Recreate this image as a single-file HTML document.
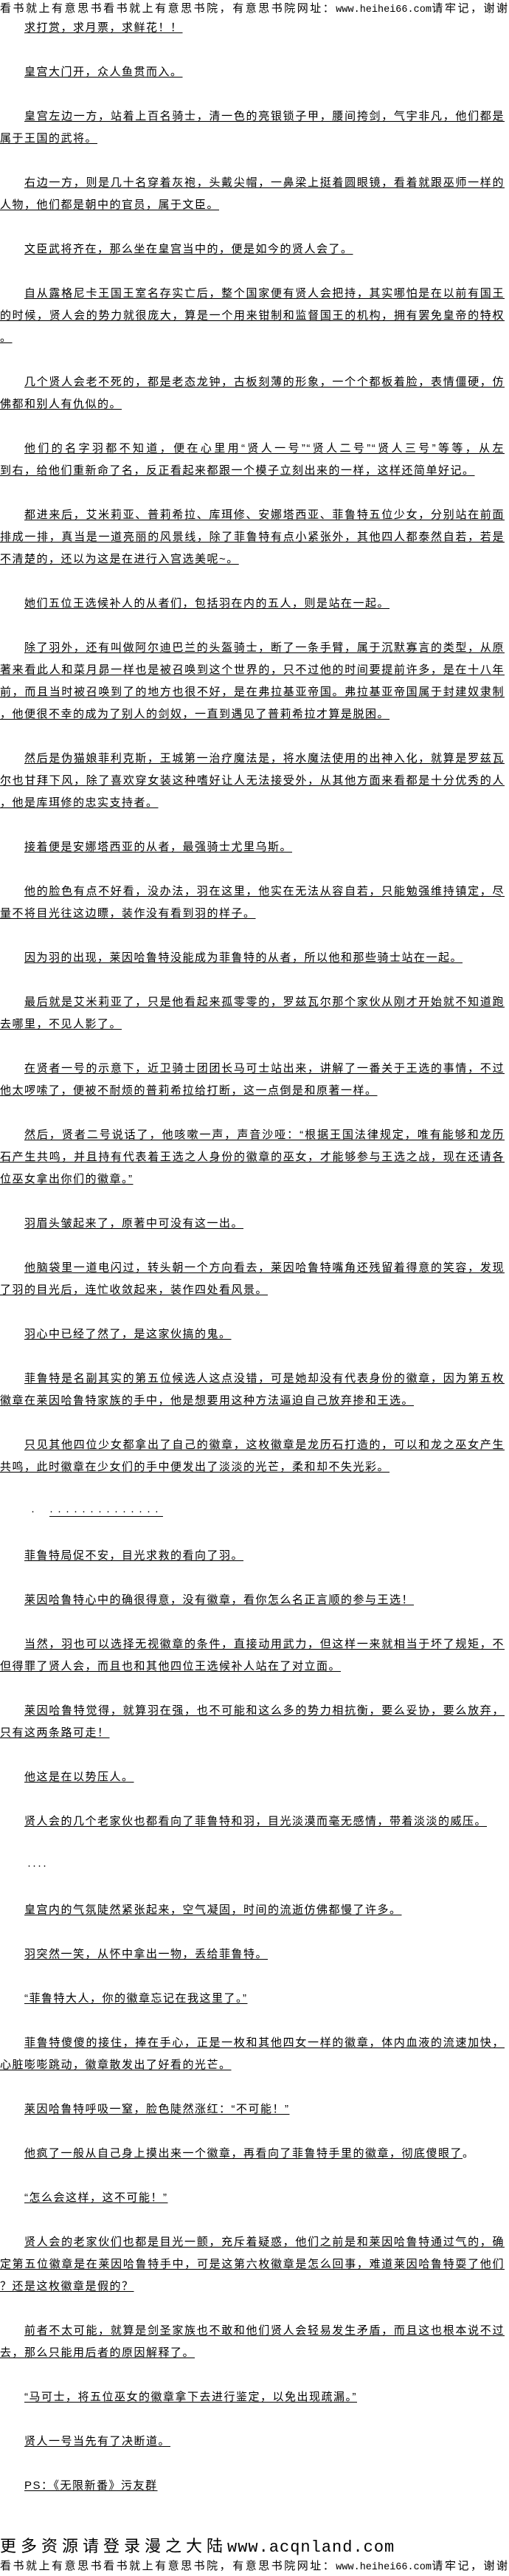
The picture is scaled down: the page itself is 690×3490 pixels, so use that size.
<!DOCTYPE html>
<html><head><meta charset="utf-8">
<style>
html,body{margin:0;padding:0;background:#fff;}
body{width:690px;height:3490px;overflow:hidden;position:relative;color:#000;}
.hd{position:absolute;left:0;width:690px;height:20px;line-height:20px;font:15px "Liberation Sans","Noto Sans CJK SC",sans-serif;letter-spacing:2px;text-align:justify;text-align-last:justify;overflow:hidden;}
.hd .m{font-family:"Liberation Mono",monospace;font-size:13.5px;letter-spacing:0;}
#c{position:absolute;top:23px;left:0;width:684px;font:15px "Liberation Sans","Noto Sans CJK SC",sans-serif;line-height:30px;letter-spacing:1.5px;}
.p{margin-bottom:30px;}
.l{height:30px;overflow:hidden;white-space:nowrap;}
.i{padding-left:33px;}
.f{white-space:normal;text-align:justify;text-align-last:justify;}
u{text-decoration:underline;text-underline-offset:2px;text-decoration-thickness:1px;}
.big{position:absolute;left:0;top:3432px;height:30px;line-height:30px;font:22px "Liberation Sans","Noto Sans CJK SC",sans-serif;letter-spacing:6px;white-space:nowrap;}
.big .m{font-family:"Liberation Mono",monospace;letter-spacing:1px;}
</style></head><body>
<div class="hd" style="top:0">看书就上有意思书看书就上有意思书院，有意思书院网址：<span class="m">www.heihei66.com</span>请牢记，谢谢</div>
<div id="c">
<div class="p"><div class="l i"><u>求打赏，求月票，求鲜花！！</u></div></div>
<div class="p"><div class="l i"><u>皇宫大门开，众人鱼贯而入。</u></div></div>
<div class="p"><div class="l i f"><u>皇宫左边一方，站着上百名骑士，清一色的亮银锁子甲，腰间挎剑，气宇非凡，他们都是</u></div><div class="l"><u>属于王国的武将。</u></div></div>
<div class="p"><div class="l i f"><u>右边一方，则是几十名穿着灰袍，头戴尖帽，一鼻梁上挺着圆眼镜，看着就跟巫师一样的</u></div><div class="l"><u>人物，他们都是朝中的官员，属于文臣。</u></div></div>
<div class="p"><div class="l i"><u>文臣武将齐在，那么坐在皇宫当中的，便是如今的贤人会了。</u></div></div>
<div class="p"><div class="l i f"><u>自从露格尼卡王国王室名存实亡后，整个国家便有贤人会把持，其实哪怕是在以前有国王</u></div><div class="l f"><u>的时候，贤人会的势力就很庞大，算是一个用来钳制和监督国王的机构，拥有罢免皇帝的特权</u></div><div class="l"><u>。</u></div></div>
<div class="p"><div class="l i f"><u>几个贤人会老不死的，都是老态龙钟，古板刻薄的形象，一个个都板着脸，表情僵硬，仿</u></div><div class="l"><u>佛都和别人有仇似的。</u></div></div>
<div class="p"><div class="l i f"><u>他们的名字羽都不知道，便在心里用“贤人一号”“贤人二号”“贤人三号”等等，从左</u></div><div class="l"><u>到右，给他们重新命了名，反正看起来都跟一个模子立刻出来的一样，这样还简单好记。</u></div></div>
<div class="p"><div class="l i f"><u>都进来后，艾米莉亚、普莉希拉、库珥修、安娜塔西亚、菲鲁特五位少女，分别站在前面</u></div><div class="l f"><u>排成一排，真当是一道亮丽的风景线，除了菲鲁特有点小紧张外，其他四人都泰然自若，若是</u></div><div class="l"><u>不清楚的，还以为这是在进行入宫选美呢~。</u></div></div>
<div class="p"><div class="l i"><u>她们五位王选候补人的从者们，包括羽在内的五人，则是站在一起。</u></div></div>
<div class="p"><div class="l i f"><u>除了羽外，还有叫做阿尔迪巴兰的头盔骑士，断了一条手臂，属于沉默寡言的类型，从原</u></div><div class="l f"><u>著来看此人和菜月昴一样也是被召唤到这个世界的，只不过他的时间要提前许多，是在十八年</u></div><div class="l f"><u>前，而且当时被召唤到了的地方也很不好，是在弗拉基亚帝国。弗拉基亚帝国属于封建奴隶制</u></div><div class="l"><u>，他便很不幸的成为了别人的剑奴，一直到遇见了普莉希拉才算是脱困。</u></div></div>
<div class="p"><div class="l i f"><u>然后是伪猫娘菲利克斯，王城第一治疗魔法是，将水魔法使用的出神入化，就算是罗兹瓦</u></div><div class="l f"><u>尔也甘拜下风，除了喜欢穿女装这种嗜好让人无法接受外，从其他方面来看都是十分优秀的人</u></div><div class="l"><u>，他是库珥修的忠实支持者。</u></div></div>
<div class="p"><div class="l i"><u>接着便是安娜塔西亚的从者，最强骑士尤里乌斯。</u></div></div>
<div class="p"><div class="l i f"><u>他的脸色有点不好看，没办法，羽在这里，他实在无法从容自若，只能勉强维持镇定，尽</u></div><div class="l"><u>量不将目光往这边瞟，装作没有看到羽的样子。</u></div></div>
<div class="p"><div class="l i"><u>因为羽的出现，莱因哈鲁特没能成为菲鲁特的从者，所以他和那些骑士站在一起。</u></div></div>
<div class="p"><div class="l i f"><u>最后就是艾米莉亚了，只是他看起来孤零零的，罗兹瓦尔那个家伙从刚才开始就不知道跑</u></div><div class="l"><u>去哪里，不见人影了。</u></div></div>
<div class="p"><div class="l i f"><u>在贤者一号的示意下，近卫骑士团团长马可士站出来，讲解了一番关于王选的事情，不过</u></div><div class="l"><u>他太啰嗦了，便被不耐烦的普莉希拉给打断，这一点倒是和原著一样。</u></div></div>
<div class="p"><div class="l i f"><u>然后，贤者二号说话了，他咳嗽一声，声音沙哑：“根据王国法律规定，唯有能够和龙历</u></div><div class="l f"><u>石产生共鸣，并且持有代表着王选之人身份的徽章的巫女，才能够参与王选之战，现在还请各</u></div><div class="l"><u>位巫女拿出你们的徽章。”</u></div></div>
<div class="p"><div class="l i"><u>羽眉头皱起来了，原著中可没有这一出。</u></div></div>
<div class="p"><div class="l i f"><u>他脑袋里一道电闪过，转头朝一个方向看去，莱因哈鲁特嘴角还残留着得意的笑容，发现</u></div><div class="l"><u>了羽的目光后，连忙收敛起来，装作四处看风景。</u></div></div>
<div class="p"><div class="l i"><u>羽心中已经了然了，是这家伙搞的鬼。</u></div></div>
<div class="p"><div class="l i f"><u>菲鲁特是名副其实的第五位候选人这点没错，可是她却没有代表身份的徽章，因为第五枚</u></div><div class="l"><u>徽章在莱因哈鲁特家族的手中，他是想要用这种方法逼迫自己放弃掺和王选。</u></div></div>
<div class="p"><div class="l i f"><u>只见其他四位少女都拿出了自己的徽章，这枚徽章是龙历石打造的，可以和龙之巫女产生</u></div><div class="l"><u>共鸣，此时徽章在少女们的手中便发出了淡淡的光芒，柔和却不失光彩。</u></div></div>
<div class="p"><div class="l" style="padding-left:42px;letter-spacing:0">·<span style="display:inline-block;width:20px"></span><u style="letter-spacing:6px">··············</u><u style="display:inline-block;width:140px"></u></div></div>
<div class="p"><div class="l i"><u>菲鲁特局促不安，目光求救的看向了羽。</u></div></div>
<div class="p"><div class="l i"><u>莱因哈鲁特心中的确很得意，没有徽章，看你怎么名正言顺的参与王选！</u></div></div>
<div class="p"><div class="l i f"><u>当然，羽也可以选择无视徽章的条件，直接动用武力，但这样一来就相当于坏了规矩，不</u></div><div class="l"><u>但得罪了贤人会，而且也和其他四位王选候补人站在了对立面。</u></div></div>
<div class="p"><div class="l i f"><u>莱因哈鲁特觉得，就算羽在强，也不可能和这么多的势力相抗衡，要么妥协，要么放弃，</u></div><div class="l"><u>只有这两条路可走！</u></div></div>
<div class="p"><div class="l i"><u>他这是在以势压人。</u></div></div>
<div class="p"><div class="l i"><u>贤人会的几个老家伙也都看向了菲鲁特和羽，目光淡漠而毫无感情，带着淡淡的威压。</u></div></div>
<div class="p"><div class="l" style="padding-left:37px;letter-spacing:2px">····<u style="display:inline-block;width:96px;letter-spacing:0">&#8203;</u></div></div>
<div class="p"><div class="l i"><u>皇宫内的气氛陡然紧张起来，空气凝固，时间的流逝仿佛都慢了许多。</u></div></div>
<div class="p"><div class="l i"><u>羽突然一笑，从怀中拿出一物，丢给菲鲁特。</u></div></div>
<div class="p"><div class="l i"><u>“菲鲁特大人，你的徽章忘记在我这里了。”</u></div></div>
<div class="p"><div class="l i f"><u>菲鲁特傻傻的接住，捧在手心，正是一枚和其他四女一样的徽章，体内血液的流速加快，</u></div><div class="l"><u>心脏嘭嘭跳动，徽章散发出了好看的光芒。</u></div></div>
<div class="p"><div class="l i"><u>莱因哈鲁特呼吸一窒，脸色陡然涨红：“不可能！”</u></div></div>
<div class="p"><div class="l i"><u>他疯了一般从自己身上摸出来一个徽章，再看向了菲鲁特手里的徽章，彻底傻眼了</u>。</div></div>
<div class="p"><div class="l i"><u>“怎么会这样，这不可能！”</u></div></div>
<div class="p"><div class="l i f"><u>贤人会的老家伙们也都是目光一颤，充斥着疑惑，他们之前是和莱因哈鲁特通过气的，确</u></div><div class="l f"><u>定第五位徽章是在莱因哈鲁特手中，可是这第六枚徽章是怎么回事，难道莱因哈鲁特耍了他们</u></div><div class="l"><u>？还是这枚徽章是假的？</u></div></div>
<div class="p"><div class="l i f"><u>前者不太可能，就算是剑圣家族也不敢和他们贤人会轻易发生矛盾，而且这也根本说不过</u></div><div class="l"><u>去，那么只能用后者的原因解释了。</u></div></div>
<div class="p"><div class="l i"><u>“马可士，将五位巫女的徽章拿下去进行鉴定，以免出现疏漏。”</u></div></div>
<div class="p"><div class="l i"><u>贤人一号当先有了决断道。</u></div></div>
<div class="p"><div class="l i"><u>PS：《无限新番》污友群</u></div></div>
</div>
<div class="big">更多资源请登录漫之大陆<span class="m">www.acqnland.com</span></div>
<div class="hd" style="top:3465px">看书就上有意思书看书就上有意思书院，有意思书院网址：<span class="m">www.heihei66.com</span>请牢记，谢谢</div>
</body></html>
